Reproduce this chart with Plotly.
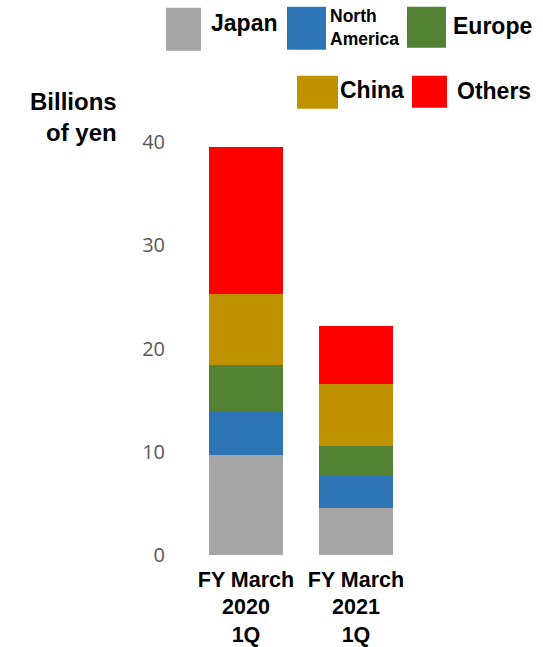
import plotly.graph_objects as go

categories = ["FY March<br>2020<br>1Q", "FY March<br>2021<br>1Q"]
series_names = ["Japan", "North America", "Europe", "China", "Others"]
legend_labels = ["Japan", "North<br>America", "Europe", "China", "Others"]
japan = [9.7, 4.6]
north_america = [4.2, 3.1]
europe = [4.5, 2.9]
china = [6.9, 6.0]
others = [14.2, 5.6]
series_values = [japan, north_america, europe, china, others]
colors = ["#A5A5A5", "#2E75B6", "#548235", "#BF9000", "#FF0000"]
y_ticks = [0, 10, 20, 30, 40]

W, H = 543, 647
L, R, T, B = 191, 411, 142.3, 555.3

def px(x):
    return (x - L) / (R - L)

def py(y):
    return (B - y) / (B - T)

fig = go.Figure()
for name, vals, col in zip(series_names, series_values, colors):
    fig.add_trace(go.Bar(x=categories, y=vals, name=name, marker=dict(color=col, line=dict(width=0)),
                         showlegend=False))

# custom legend (square swatch + label)
legend_boxes = [  # x0, y0, x1, y1 (pixels), text x, text y
    (166, 8, 201, 51, 209, 23),
    (287, 7, 326, 50, 328, 28),
    (407, 7, 446, 48, 451, 26),
    (297, 76, 338, 109, 338, 90),
    (412, 76, 447, 108, 455, 91),
]
shapes = []
annotations = []
for i, (x0, y0, x1, y1, tx, ty) in enumerate(legend_boxes):
    shapes.append(dict(type="rect", xref="paper", yref="paper", x0=px(x0), x1=px(x1), y0=py(y1), y1=py(y0),
                       fillcolor=colors[i], line=dict(width=0)))
    fs = 17.5 if i == 1 else 23
    annotations.append(dict(xref="paper", yref="paper", x=px(tx), y=py(ty), xanchor="left", yanchor="middle",
                            text="<b>" + legend_labels[i] + "</b>", showarrow=False, align="left",
                            font=dict(family="Liberation Sans, Arial", size=fs, color="black")))

annotations.append(dict(xref="paper", yref="paper", x=px(119), y=py(117), xanchor="right", yanchor="middle",
                        text="<b>Billions<br>of yen</b>", showarrow=False, align="right",
                        font=dict(family="Liberation Sans, Arial", size=24, color="black")))

fig.update_layout(
    width=W, height=H, autosize=False,
    margin=dict(l=L, r=W - R, t=T, b=H - B, pad=0, autoexpand=False),
    barmode="stack", bargap=0.333,
    plot_bgcolor="white", paper_bgcolor="white",
    shapes=shapes, annotations=annotations,
    showlegend=False,
)
fig.update_yaxes(range=[0, 40], tickvals=y_ticks, showgrid=False, zeroline=False, showline=False,
                 automargin=False,
                 tickfont=dict(family="Open Sans", size=20, color="#595959"), ticklabelstandoff=25)
fig.update_xaxes(showgrid=False, showline=False, zeroline=False, automargin=False,
                 tickfont=dict(family="Liberation Sans, Arial", size=21.5, color="black"),
                 ticklabelstandoff=9)
fig.update_xaxes(ticktext=["<b>" + c + "</b>" for c in categories], tickvals=categories)

fig.write_html("out.html")
